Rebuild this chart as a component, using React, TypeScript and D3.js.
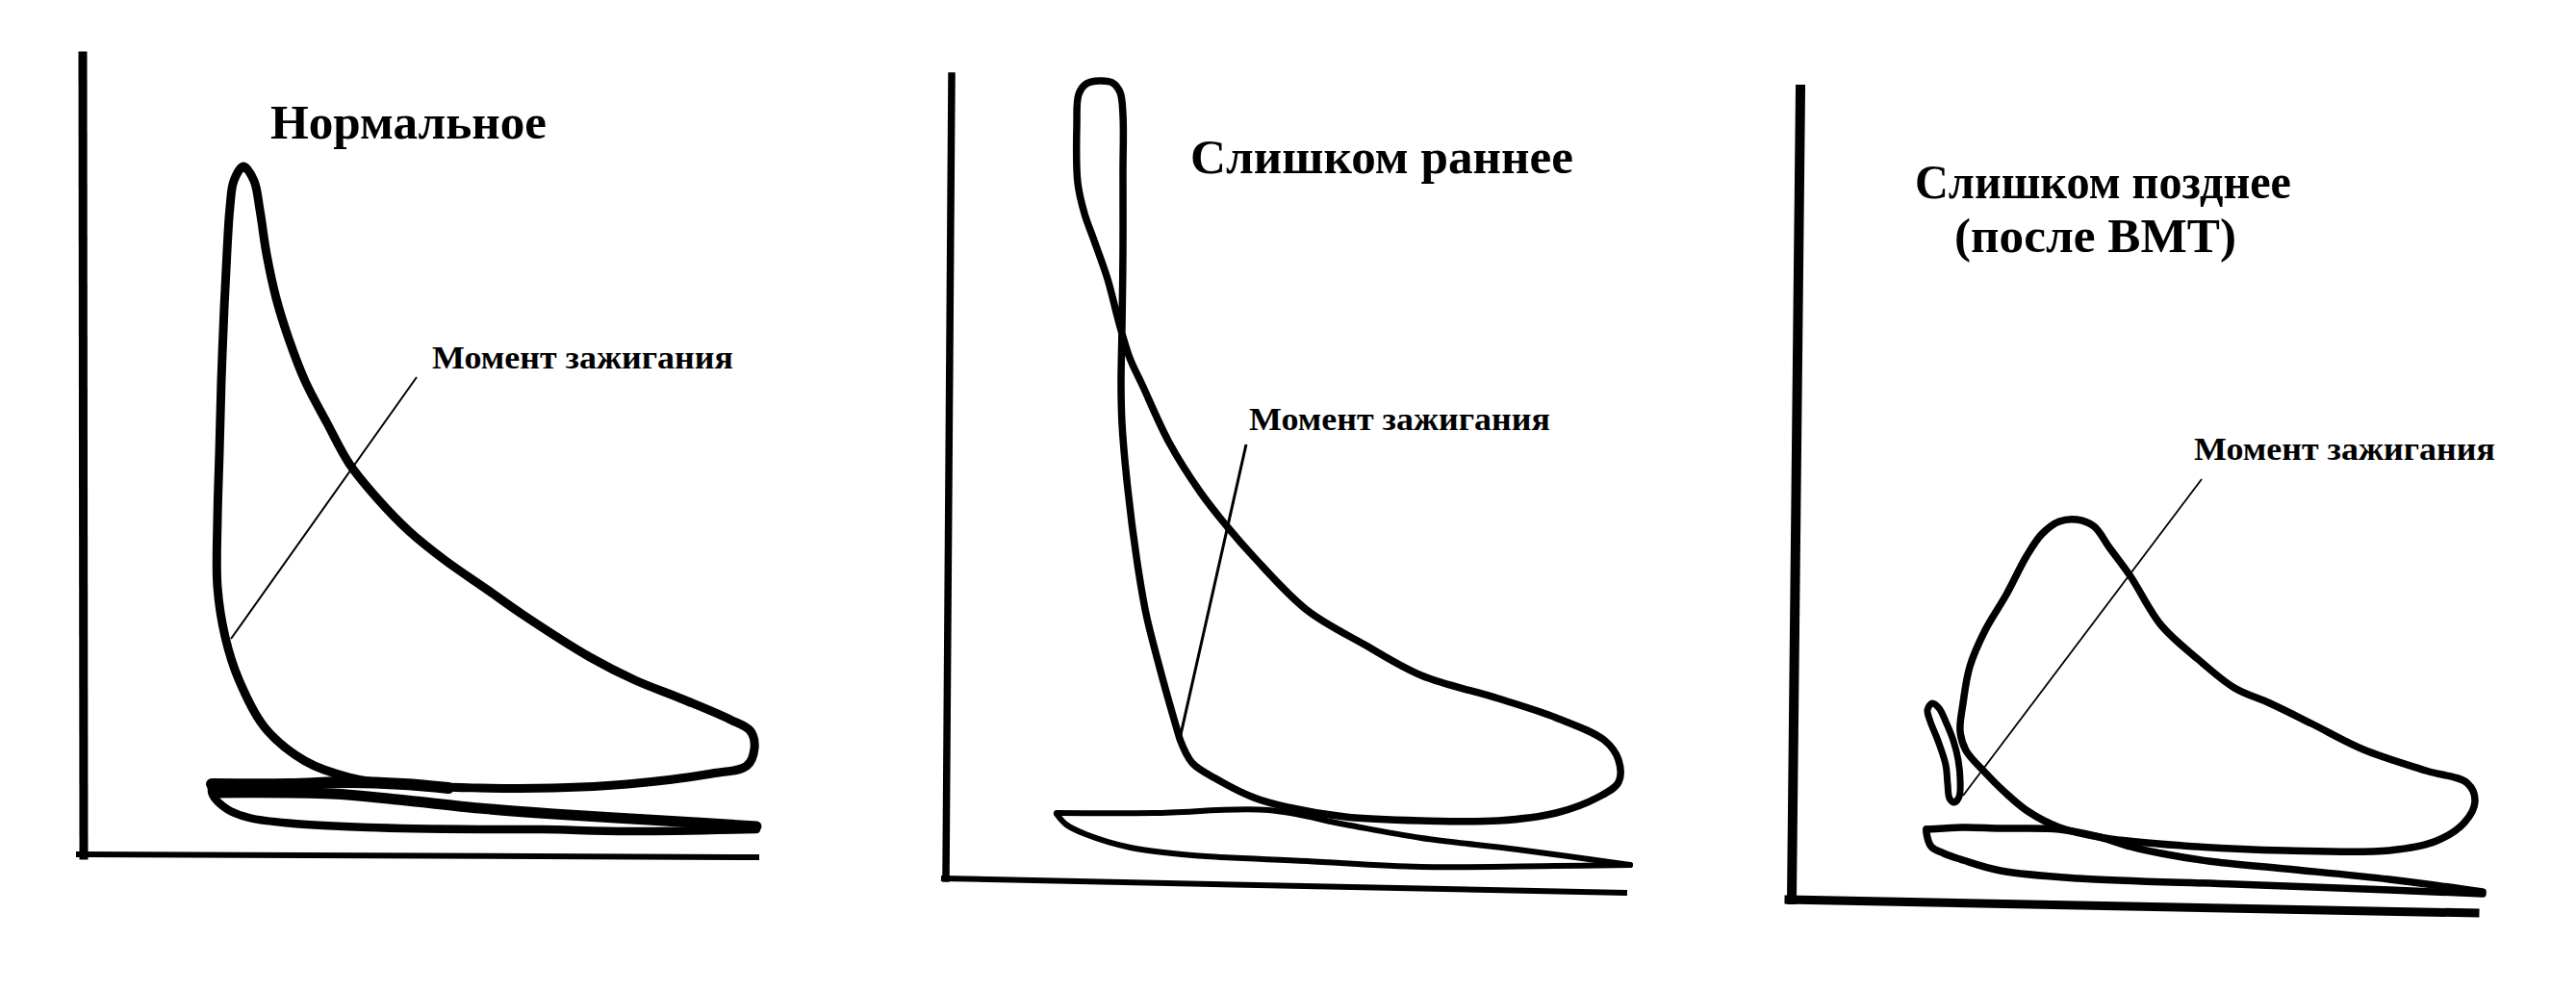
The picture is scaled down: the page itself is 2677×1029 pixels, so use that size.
import React from 'react';
import * as d3 from 'd3';

type Pt = [number, number];

// ---------- Panel 1: Нормальное (volume, pressure in arbitrary units) ----------
const normalCycle: Pt[] = [
  [33.4, 7.3], [27.7, 8.1], [23.1, 9.8], [18.9, 13.3], [16.2, 18.3], [14.8, 22.7],
  [14.0, 27.9], [14.0, 34.9], [14.2, 41.9], [14.4, 49.3], [14.7, 56.9], [15.0, 62.9],
  [15.3, 67.4], [15.7, 70.1], [16.7, 71.6], [17.8, 70.1], [18.4, 67.1], [19.1, 62.5],
  [20.1, 57.9], [21.4, 53.7], [23.1, 49.3], [25.4, 44.9], [27.7, 40.7], [30.6, 37.1],
  [33.9, 33.7], [37.6, 30.7], [41.9, 27.7], [45.9, 24.9], [52.7, 20.6], [57.4, 18.2],
  [62.4, 16.2], [67.3, 14.1], [69.4, 12.9], [69.8, 11.1], [69.0, 9.3], [65.4, 8.5],
  [56.6, 7.4], [48.9, 7.0], [41.2, 7.0],
];
const normalPumpUpper: Pt[] = [[13.4, 7.4], [21.4, 7.4], [27.7, 7.6], [33.4, 7.4], [38.0, 7.0]];
const normalPumpMiddle: Pt[] = [
  [13.6, 6.5], [25.8, 6.4], [32.7, 5.8], [41.2, 4.9], [48.9, 4.3], [60.4, 3.6], [70.0, 3.0],
];
const normalPumpLower: Pt[] = [
  [13.4, 7.4], [13.5, 6.3], [15.0, 4.8], [17.3, 3.9], [21.9, 3.3], [29.6, 2.9], [41.2, 2.7],
  [47.7, 2.7], [56.6, 2.5], [70.0, 2.7],
];
const normalIgnition: Pt[] = [[34.7, 49.7], [15.4, 22.5]];
const normalAxisY: Pt[] = [[0, 83.1], [0.1, 0]];
const normalAxisX: Pt[] = [[-0.4, 0.1], [70.0, -0.2]];

// ---------- Panel 2: Слишком раннее ----------
const earlyCycle: Pt[] = [
  [24.1, 14.5], [23.0, 18.3], [21.8, 22.7], [20.6, 27.5], [19.6, 33.4], [18.6, 41.4],
  [18.1, 47.3], [18.0, 51.3], [18.1, 57.3], [18.2, 65.3], [18.2, 73.3], [18.2, 79.3],
  [17.9, 81.7], [17.1, 82.7], [15.8, 82.9], [14.4, 82.6], [13.6, 81.5], [13.4, 78.3],
  [13.5, 72.3], [14.2, 69.1], [15.2, 66.3], [16.6, 62.3], [17.8, 57.7], [18.9, 54.1],
  [20.2, 51.3], [23.0, 45.3], [26.2, 40.2], [29.0, 36.6], [31.8, 33.4], [37.3, 27.9],
  [43.3, 24.3], [49.2, 21.1], [57.2, 18.7], [63.2, 16.7], [68.3, 14.3], [69.7, 12.3],
  [69.7, 10.0], [67.5, 8.4], [63.2, 6.8], [57.2, 6.0], [49.2, 6.0], [41.3, 6.4],
  [35.3, 7.4], [31.8, 8.4], [27.8, 10.4], [25.4, 12.0], [24.1, 14.5],
];
const earlyPumpUpper: Pt[] = [
  [11.3, 6.8], [21.4, 6.8], [33.3, 7.1], [41.3, 5.6], [49.2, 4.2], [59.2, 3.0], [70.9, 1.4],
];
const earlyPumpLower: Pt[] = [
  [11.3, 6.7], [12.3, 5.6], [14.3, 4.6], [19.0, 3.2], [25.4, 2.4], [37.3, 1.8], [49.2, 1.2],
  [63.2, 1.3], [70.9, 1.4],
];
const earlyIgnition: Pt[] = [[31.0, 45.1], [24.1, 14.5]];
const earlyAxisY: Pt[] = [[0.4, 83.4], [-0.2, 0]];
const earlyAxisX: Pt[] = [[-0.4, 0], [70.3, -1.5]];

// ---------- Panel 3: Слишком позднее (после ВМТ) ----------
const lateCycle: Pt[] = [
  [27.4, 7.5], [24.1, 9.2], [21.7, 11.2], [19.7, 13.2], [17.7, 15.5], [17.1, 17.5],
  [17.4, 20.4], [18.1, 24.2], [19.7, 28.0], [21.9, 31.7], [24.0, 35.7], [25.6, 38.0],
  [27.4, 39.3], [29.2, 39.5], [31.0, 38.8], [32.6, 36.6], [34.8, 33.6], [38.0, 28.5],
  [41.8, 25.0], [45.6, 22.0], [49.3, 20.4], [53.6, 18.3], [59.0, 15.6], [65.5, 13.4],
  [69.8, 12.1], [70.6, 10.2], [69.5, 8.0], [66.6, 6.1], [61.7, 5.1], [50.9, 5.1],
  [40.2, 5.6], [32.1, 6.4],
];
const lateHook: Pt[] = [
  [13.7, 19.7], [14.0, 18.5], [14.8, 16.5], [15.6, 14.0], [15.8, 12.0], [16.0, 10.5],
  [16.5, 10.1], [17.0, 10.7], [17.1, 12.5], [16.9, 14.5], [16.4, 16.5], [15.6, 18.5],
  [14.9, 19.9], [14.2, 20.4],
];
const latePumpUpper: Pt[] = [
  [13.6, 7.3], [17.4, 7.5], [21.3, 7.4], [27.4, 7.3], [31.6, 6.5], [34.8, 5.5], [38.0, 4.8],
  [42.9, 4.0], [50.9, 3.2], [61.7, 2.1], [71.4, 0.8],
];
const latePumpLower: Pt[] = [
  [13.6, 7.3], [13.6, 6.9], [14.1, 5.5], [15.4, 4.8], [17.4, 4.1], [21.3, 3.0], [29.4, 2.2],
  [45.6, 1.6], [61.7, 1.0], [71.4, 0.6],
];
const lateIgnition: Pt[] = [[42.2, 43.7], [17.4, 10.8]];
const lateAxisY: Pt[] = [[0.5, 84.2], [-0.4, 0]];
const lateAxisX: Pt[] = [[-0.7, 0], [70.6, -1.4]];

// ---------- Text ----------
const titles: string[][] = [['Нормальное'], ['Слишком раннее'], ['Слишком позднее', '(после ВМТ)']];
const ignitionLabel = 'Момент зажигания';

const W = 2677;
const H = 1029;
const FONT = '"Liberation Serif", "Times New Roman", serif';

type Stroke = { pts: Pt[]; w: number; closed?: boolean };

interface PanelDef {
  ox: number;
  oy: number;
  strokes: Stroke[];
  axisW: [number, number];
  axisY: Pt[];
  axisX: Pt[];
  ignition: Pt[];
  leaderW: number;
  title: string[];
  titlePos: [number, number][];
  titleLen: number[];
  labelPos: [number, number];
}

const panels: PanelDef[] = [
  {
    ox: 86, oy: 889,
    strokes: [
      { pts: normalCycle, w: 9, closed: true },
      { pts: normalPumpUpper, w: 12 },
      { pts: normalPumpMiddle, w: 11 },
      { pts: normalPumpLower, w: 8.5 },
    ],
    axisW: [9, 6], axisY: normalAxisY, axisX: normalAxisX,
    ignition: normalIgnition, leaderW: 2,
    title: titles[0], titlePos: [[281, 144]], titleLen: [287], labelPos: [449, 383],
  },
  {
    ox: 985, oy: 913,
    strokes: [
      { pts: earlyCycle, w: 7.5 },
      { pts: earlyPumpUpper, w: 6 },
      { pts: earlyPumpLower, w: 6 },
    ],
    axisW: [7.5, 6], axisY: earlyAxisY, axisX: earlyAxisX,
    ignition: earlyIgnition, leaderW: 3,
    title: titles[1], titlePos: [[1237, 180]], titleLen: [398], labelPos: [1298, 447],
  },
  {
    ox: 1866, oy: 935,
    strokes: [
      { pts: lateCycle, w: 7.5, closed: true },
      { pts: lateHook, w: 7, closed: true },
      { pts: latePumpUpper, w: 7.5 },
      { pts: latePumpLower, w: 7.5 },
    ],
    axisW: [10, 9], axisY: lateAxisY, axisX: lateAxisX,
    ignition: lateIgnition, leaderW: 1.8,
    title: titles[2], titlePos: [[1990, 206], [2031, 262]], titleLen: [391, 293], labelPos: [2280, 478],
  },
];

function Panel({ p }: { p: PanelDef }) {
  const unit = 10;
  const x = d3.scaleLinear().domain([0, 72]).range([p.ox, p.ox + 72 * unit]);
  const y = d3.scaleLinear().domain([0, 86]).range([p.oy, p.oy - 86 * unit]);
  const mk = (closed?: boolean) =>
    d3
      .line<Pt>()
      .x((d) => x(d[0]))
      .y((d) => y(d[1]))
      .curve(closed ? d3.curveCatmullRomClosed.alpha(0.5) : d3.curveCatmullRom.alpha(0.5));
  const lin = d3
    .line<Pt>()
    .x((d) => x(d[0]))
    .y((d) => y(d[1]));
  return (
    <g>
      <path d={lin(p.axisY) || ''} stroke="#000" strokeWidth={p.axisW[0]} fill="none" strokeLinecap="square" />
      <path d={lin(p.axisX) || ''} stroke="#000" strokeWidth={p.axisW[1]} fill="none" strokeLinecap="square" />
      {p.strokes.map((s, i) => (
        <path
          key={i}
          d={mk(s.closed)(s.pts) || ''}
          stroke="#000"
          strokeWidth={s.w}
          fill="none"
          strokeLinejoin="round"
          strokeLinecap="round"
        />
      ))}
      <path d={lin(p.ignition) || ''} stroke="#000" strokeWidth={p.leaderW} fill="none" />
      {p.title.map((t, i) => (
        <text
          key={i}
          x={p.titlePos[i][0]}
          y={p.titlePos[i][1]}
          fontFamily={FONT}
          fontWeight="bold"
          fontSize={50}
          textLength={p.titleLen[i]}
          lengthAdjust="spacingAndGlyphs"
          fill="#000"
        >
          {t}
        </text>
      ))}
      <text
        x={p.labelPos[0]}
        y={p.labelPos[1]}
        fontFamily={FONT}
        fontWeight="bold"
        fontSize={34}
        textLength={313}
        lengthAdjust="spacingAndGlyphs"
        fill="#000"
      >
        {ignitionLabel}
      </text>
    </g>
  );
}

export default function App() {
  return (
    <svg
      width={W}
      height={H}
      viewBox={`0 0 ${W} ${H}`}
      style={{ position: 'absolute', left: 0, top: 0, display: 'block', background: '#fff' }}
    >
      <rect width={W} height={H} fill="#fff" />
      {panels.map((p, i) => (
        <Panel key={i} p={p} />
      ))}
    </svg>
  );
}
